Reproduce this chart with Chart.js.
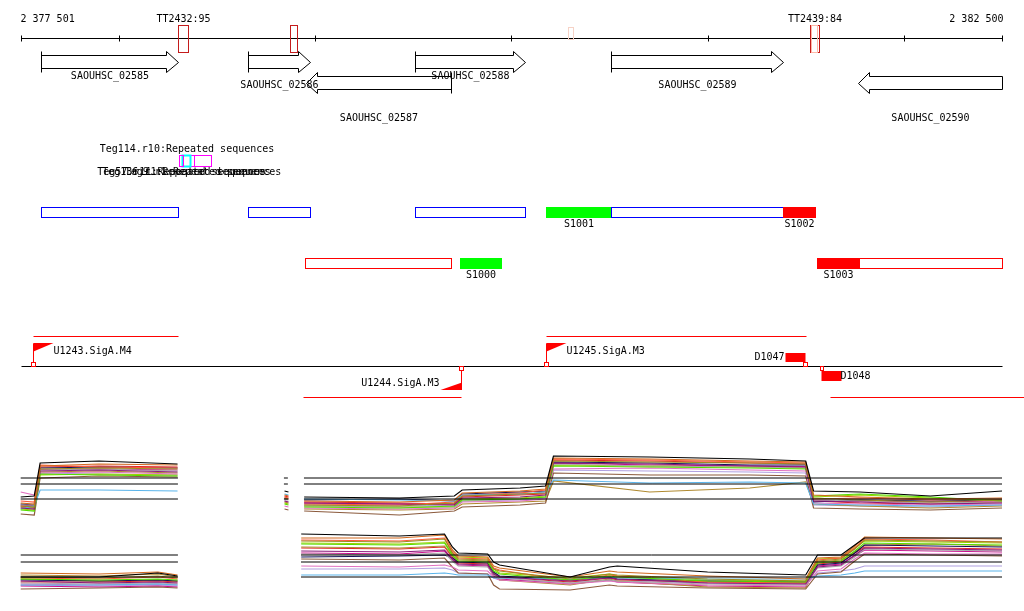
<!DOCTYPE html>
<html>
<head>
<meta charset="utf-8">
<script src="https://cdn.jsdelivr.net/npm/chart.js@4.4.0/dist/chart.umd.min.js"></script>
<style>
  html, body { margin: 0; padding: 0; background: #fff; }
  #wrap { width: 1024px; height: 611px; }
</style>
</head>
<body>
<div id="wrap"><canvas id="browser" width="1024" height="611"></canvas></div>
<script>
// region on screen
const regionStart = 2377501;
const regionEnd = 2382500;
const tickPositions = [2378000, 2379000, 2380000, 2381000, 2382000];

// terminators (top ruler)
const termNames = ['TT2432:95', '', '', 'TT2439:84', ''];
const termStarts = [2378304, 2378874, 2380288, 2381520, 2381527];
const termEnds = [2378355, 2378907, 2380317, 2381568, 2381560];
const termScores = [95, 90, 15, 84, 30];

// genes
const geneNames = ['SAOUHSC_02585', 'SAOUHSC_02586', 'SAOUHSC_02587', 'SAOUHSC_02588', 'SAOUHSC_02589', 'SAOUHSC_02590'];
const geneStarts = [2377606, 2378660, 2378954, 2379511, 2380508, 2381768];
const geneEnds = [2378304, 2378975, 2379692, 2380070, 2381386, 2382500];
const geneStrands = ['+', '+', '-', '+', '+', '-'];

// repeated sequences
const rptNames = ['Teg114.r10', 'Teg136.r1', 'Teg57.r11', 'Teg9.r1'];
const rptStarts = [2378307, 2378322, 2378307, 2378384];
const rptEnds = [2378384, 2378364, 2378327, 2378470];
const rptKinds = ['direct', 'inverted', 'direct', 'direct'];

// segments
const segNames = ['', '', '', 'S1001', '', 'S1002', '', 'S1000', 'S1003', ''];
const segStarts = [2377606, 2378660, 2379511, 2380178, 2380509, 2381383, 2378951, 2379737, 2381559, 2381770];
const segEnds = [2378301, 2378973, 2380068, 2380509, 2381383, 2381545, 2379692, 2379946, 2381770, 2382500];
const segStrands = ['+', '+', '+', '+', '+', '+', '-', '-', '-', '-'];
const segShift = ['none', 'none', 'none', 'up', 'none', 'down', 'none', 'up', 'down', 'none'];

// promoters, terminators, transcripts
const promNames = ['U1243.SigA.M4', 'U1244.SigA.M3', 'U1245.SigA.M3'];
const promPos = [2377562, 2379744, 2380177];
const promStrands = ['+', '-', '+'];
const downNames = ['D1047', 'D1048'];
const downPos = [2381497, 2381580];
const downStrands = ['+', '-'];
const txStarts = [2377563, 2378940, 2380177, 2381623];
const txEnds = [2378302, 2379744, 2381502, 2382700];
const txStrands = ['+', '-', '+', '-'];

// expression, forward strand (log2 signal)
const posUpper = [2377501, 2377570, 2377600, 2377900, 2378300, 2378570, 2378845, 2378865, 2378900, 2378945, 2379430, 2379710,
  2379750, 2380045, 2380175, 2380215, 2380705, 2381215, 2381500, 2381540, 2381775, 2382135, 2382500];
const upperSeries = [
  [5.4, 5.6, 12.2, 12.6, 12.0, null, 6.6, 6.4, null, 5.4, 5.2, 5.6, 6.8, 7.2, 7.6, 13.6, 13.4, 13.0, 12.6, 6.6, 6.4, 5.6, 6.6],
  [4.2, 4.0, 11.6, 12.0, 11.8, null, 5.8, 5.6, null, 4.6, 4.4, 4.8, 6.2, 6.6, 7.0, 13.2, 13.0, 12.6, 12.4, 5.8, 5.4, 5.0, 5.2],
  [3.6, 3.4, 11.0, 11.2, 11.0, null, 5.2, 5.0, null, 3.8, 3.6, 4.2, 5.6, 6.0, 6.2, 12.6, 12.4, 12.2, 12.0, 5.2, 4.8, 4.4, 4.8],
  [3.2, 3.0, 10.6, 10.8, 10.4, null, 4.6, 4.4, null, 4.2, 4.0, 3.8, 5.2, 5.4, 5.8, 12.2, 12.0, 11.6, 11.4, 4.6, 4.4, 4.0, 4.2],
  [2.8, 2.6, 10.0, 9.8, 9.6, null, 4.0, 3.8, null, 3.4, 3.2, 3.6, 4.8, 5.0, 5.4, 11.6, 11.4, 11.2, 11.0, 5.6, 6.0, 5.4, 4.6],
  [3.0, 3.6, 6.8, 6.8, 6.6, null, 6.0, 5.8, null, 5.0, 4.8, 4.6, 5.8, 6.0, 6.4, 8.8, 8.2, 8.4, 8.2, 4.0, 3.8, 3.6, 3.8],
  [4.6, 4.4, 11.8, 11.4, 11.2, null, 5.4, 5.2, null, 4.0, 3.8, 4.4, 5.8, 6.2, 6.8, 13.0, 12.8, 12.4, 12.2, 5.0, 5.2, 4.8, 5.0],
  [3.8, 3.8, 10.8, 11.0, 10.6, null, 4.8, 4.8, null, 3.6, 3.4, 3.4, 4.6, 5.0, 5.4, 12.0, 11.6, 11.4, 11.2, 4.8, 4.6, 4.2, 4.4],
  [4.0, 3.8, 11.2, 11.4, 11.2, null, 5.0, 5.0, null, 4.8, 5.0, 4.6, 6.0, 6.4, 6.6, 12.4, 12.2, 11.8, 11.8, 4.4, 4.8, 4.6, 4.8],
  [6.4, 5.8, 10.2, 10.4, 10.0, null, 3.6, 3.4, null, 3.2, 3.0, 3.2, 4.4, 4.6, 5.0, 11.0, 11.2, 10.8, 10.6, 4.2, 4.0, 3.8, 4.0],
  [2.0, 1.8, 9.2, 9.6, 9.4, null, 3.0, 2.8, null, 2.6, 1.8, 2.6, 3.4, 3.8, 4.2, 10.2, 9.8, 9.8, 9.6, 3.2, 3.0, 2.8, 3.2],
  [3.4, 3.2, 10.4, 10.6, 10.2, null, 4.4, 4.2, null, 3.0, 2.8, 3.0, 4.0, 4.4, 4.6, 8.6, 6.4, 7.2, 8.4, 4.0, 3.6, 3.2, 3.6],
  [3.6, 3.4, 11.4, 11.6, 11.4, null, 5.6, 5.4, null, 4.4, 4.2, 4.0, 5.4, 5.8, 6.0, 12.8, 12.6, 12.2, 12.0, 4.6, 4.2, 4.0, 4.4],
  [3.0, 2.8, 9.8, 10.0, 9.8, null, 4.2, 4.0, null, 3.6, 3.4, 3.4, 5.0, 5.2, 5.6, 11.8, 11.6, 11.4, 11.2, 5.4, 5.8, 5.2, 4.8],
  [3.8, 3.6, 10.9, 11.0, 10.8, null, 5.2, 5.0, null, 4.2, 4.0, 4.0, 5.6, 6.0, 6.2, 12.2, 11.8, 11.6, 11.5, 4.8, 4.6, 4.4, 4.6],
  [3.4, 3.2, 10.2, 10.0, 9.8, null, 4.6, 4.4, null, 3.8, 3.6, 3.8, 4.6, 4.8, 5.2, 10.8, 10.6, 10.4, 10.2, 3.8, 3.6, 3.4, 3.8]
];

// expression, reverse strand
const posLower = [2377501, 2377900, 2378200, 2378300, 2378600, 2378930, 2379430, 2379660, 2379700, 2379730, 2379880, 2379910,
  2379940, 2380300, 2380500, 2380540, 2381000, 2381500, 2381560, 2381680, 2381750, 2381800, 2382150, 2382500];
const lowerSeries = [
  [5.0, 5.0, 5.8, 5.2, null, 13.6, 13.2, 13.6, 11.0, 9.8, 9.6, 8.0, 7.4, 5.0, 7.0, 7.2, 6.0, 5.4, 9.4, 9.4, 11.4, 12.8, 12.8, 12.8],
  [5.8, 5.6, 6.0, 5.4, null, 12.8, 12.8, 13.4, 10.4, 9.2, 9.0, 7.2, 6.8, 5.0, 6.2, 6.0, 5.2, 4.6, 8.8, 9.0, 11.2, 13.0, 12.8, 12.6],
  [5.0, 4.8, 5.2, 4.8, null, 12.2, 12.0, 12.6, 9.8, 8.6, 8.4, 6.6, 6.2, 4.6, 5.6, 5.4, 4.6, 4.2, 8.2, 8.6, 10.6, 12.4, 12.2, 12.0],
  [4.2, 3.8, 4.0, 3.8, null, 10.2, 10.0, 10.4, 8.6, 7.6, 7.4, 5.6, 5.0, 4.2, 4.8, 4.6, 3.8, 3.6, 7.0, 7.4, 9.4, 10.8, 10.6, 10.4],
  [4.6, 4.4, 4.6, 4.4, null, 11.6, 11.4, 11.8, 9.4, 8.2, 8.0, 6.2, 5.6, 4.4, 5.2, 5.0, 4.2, 4.0, 7.8, 8.2, 10.2, 11.8, 11.6, 11.4],
  [3.4, 3.4, 3.6, 3.4, null, 5.4, 5.4, 5.8, 5.6, 5.4, 5.4, 4.8, 4.8, 4.6, 5.0, 4.8, 4.6, 4.6, 5.2, 5.4, 5.8, 6.2, 6.2, 6.2],
  [4.8, 4.6, 5.0, 4.6, null, 12.4, 12.2, 12.8, 10.0, 8.8, 8.6, 6.8, 6.4, 4.2, 5.4, 5.2, 4.0, 3.8, 8.4, 8.8, 10.8, 12.6, 12.4, 12.0],
  [3.8, 3.6, 3.8, 3.6, null, 9.6, 9.4, 9.8, 8.2, 7.2, 7.0, 5.4, 4.8, 3.8, 4.4, 4.2, 3.6, 3.4, 6.8, 7.2, 9.0, 10.6, 10.4, 10.2],
  [4.4, 4.2, 4.4, 4.2, null, 9.0, 9.2, 9.4, 8.8, 8.0, 7.8, 6.0, 5.2, 4.4, 5.0, 4.6, 4.2, 4.0, 7.4, 7.8, 9.8, 11.4, 11.2, 11.0],
  [3.6, 3.4, 3.6, 3.4, null, 7.2, 7.0, 7.4, 7.0, 6.4, 6.2, 5.0, 4.4, 3.6, 4.2, 4.0, 3.4, 3.2, 6.2, 6.6, 8.6, 9.8, 9.6, 9.6],
  [2.6, 2.8, 3.0, 2.8, null, 8.6, 8.4, 8.8, 7.0, 5.8, 5.6, 3.4, 2.6, 2.4, 3.4, 3.2, 2.8, 2.6, 5.6, 6.0, 8.2, 9.6, 9.4, 9.2],
  [5.4, 5.2, 5.6, 5.0, null, 11.0, 10.8, 11.2, 9.2, 8.4, 8.2, 6.0, 4.4, 3.4, 4.6, 4.2, 3.0, 2.8, 8.0, 8.4, 10.0, 11.4, 11.6, 11.2],
  [4.0, 4.0, 4.2, 4.0, null, 10.8, 10.6, 11.0, 9.0, 7.8, 7.6, 5.8, 5.0, 4.0, 4.8, 4.4, 4.0, 3.8, 7.6, 8.0, 9.8, 11.0, 10.8, 10.6],
  [4.6, 4.2, 4.4, 4.2, null, 11.8, 11.6, 12.0, 9.6, 9.0, 8.8, 6.6, 5.8, 4.8, 5.6, 5.2, 4.4, 4.2, 8.6, 8.8, 10.8, 12.2, 12.0, 11.8],
  [3.2, 3.0, 3.2, 3.0, null, 9.8, 9.6, 10.2, 8.4, 7.4, 7.2, 5.2, 4.6, 3.6, 4.4, 4.0, 3.2, 3.0, 7.2, 7.6, 9.2, 10.4, 10.2, 10.0],
  [3.4, 3.2, 3.4, 3.2, null, 6.6, 6.6, 6.8, 6.4, 5.8, 5.6, 4.8, 4.4, 4.0, 4.4, 4.2, 3.8, 3.6, 5.8, 6.2, 6.6, 7.2, 7.2, 7.2]
];

// reference levels and covered spans
const refUpper = [9.2, 8.0, 5.0];
const refLower = [9.4, 8.0, 5.0];
const spansUpper = [[2377501, 2378302], [2378842, 2378862], [2378944, 2382500]];
const spansLower = [[2377501, 2378302], [2378929, 2382500]];

const seriesColours = ['#000000', '#d2691e', '#9c8c22', '#8b1a7a', '#55dd00', '#5ab4ea', '#ff5a3c', '#a8a8a8',
  '#14145a', '#e070c0', '#8b5a3c', '#b08a30', '#e02828', '#a0d000', '#cc1090', '#b0a0e0'];

function toPoints(pos, vals) {
  return pos.map((p, i) => ({ x: p, y: vals[i] }));
}
function spanPoints(spans, level) {
  const pts = [];
  spans.forEach((s, i) => {
    if (i > 0) pts.push({ x: (spans[i - 1][1] + s[0]) / 2, y: null });
    pts.push({ x: s[0], y: level }, { x: s[1], y: level });
  });
  return pts;
}

const datasets = [];
refUpper.forEach(l => datasets.push({ data: spanPoints(spansUpper, l), yAxisID: 'yU', borderColor: '#000', borderWidth: 1 }));
refLower.forEach(l => datasets.push({ data: spanPoints(spansLower, l), yAxisID: 'yD', borderColor: '#000', borderWidth: 1 }));
upperSeries.forEach((vals, i) => datasets.push({ data: toPoints(posUpper, vals), yAxisID: 'yU', borderColor: seriesColours[i], borderWidth: 1.2 }));
lowerSeries.forEach((vals, i) => datasets.push({ data: toPoints(posLower, vals), yAxisID: 'yD', borderColor: seriesColours[i], borderWidth: 1.2 }));

function fmt(n) {
  return String(n).replace(/\B(?=(\d{3})+(?!\d))/g, ' ');
}

const tracks = {
  id: 'tracks',
  afterDatasetsDraw(chart) {
    const c = chart.ctx;
    const xs = chart.scales.x, ys = chart.scales.yL;
    const X = v => Math.round(xs.getPixelForValue(v)) + 0.5;
    const Y = v => Math.round(ys.getPixelForValue(v)) + 0.5;
    const T = v => ys.getPixelForValue(v);
    const labels = [];
    c.save();
    c.font = '10px "DejaVu Sans Mono"';
    c.lineWidth = 1;
    c.textBaseline = 'middle';

    // ruler
    c.strokeStyle = '#000';
    c.beginPath();
    c.moveTo(X(regionStart), Y(38));
    c.lineTo(X(regionEnd), Y(38));
    [regionStart, ...tickPositions, regionEnd].forEach(p => {
      c.moveTo(X(p), Y(35));
      c.lineTo(X(p), Y(41));
    });
    c.stroke();
    labels.push([fmt(regionStart), X(regionStart) - 1, T(19), 'left']);
    labels.push([fmt(regionEnd), X(regionEnd) + 1, T(19), 'right']);

    // terminator boxes
    termNames.forEach((n, i) => {
      const s = termScores[i];
      c.strokeStyle = s >= 80 ? '#c41c1c' : (s >= 25 ? '#ffb8a8' : '#f6d2c6');
      const top = s >= 20 ? 25 : 27, bot = s >= 20 ? 52 : 39;
      const x1 = X(termStarts[i]), x2 = X(termEnds[i]);
      c.strokeRect(x1, Y(top), x2 - x1, Y(bot) - Y(top));
      if (n) labels.push([n, (x1 + x2) / 2, T(19), 'center']);
    });

    // genes
    let fwd = 0;
    geneNames.forEach((n, i) => {
      const x1 = X(geneStarts[i]), x2 = X(geneEnds[i]);
      const clipped = geneEnds[i] >= regionEnd;
      c.strokeStyle = '#000';
      c.fillStyle = '#fff';
      c.beginPath();
      let labelY;
      if (geneStrands[i] === '+') {
        const hs = x2 - 12, t = Y(55), b = Y(68), ht = Y(51), hb = Y(72), m = Y(61.5);
        c.moveTo(x1, t); c.lineTo(hs, t); c.lineTo(hs, ht); c.lineTo(x2, m);
        c.lineTo(hs, hb); c.lineTo(hs, b); c.lineTo(x1, b); c.closePath();
        c.fill();
        c.stroke();
        c.beginPath();
        c.moveTo(x1, ht); c.lineTo(x1, hb);
        c.stroke();
        labelY = fwd % 2 === 0 ? 76 : 85;
        fwd++;
      } else {
        const hs = x1 + 11, t = Y(76), b = Y(89), ht = Y(72), hb = Y(93), m = Y(82.5);
        c.moveTo(x2, t); c.lineTo(hs, t); c.lineTo(hs, ht); c.lineTo(x1, m);
        c.lineTo(hs, hb); c.lineTo(hs, b); c.lineTo(x2, b); c.closePath();
        c.fill();
        c.stroke();
        if (!clipped) {
          c.beginPath();
          c.moveTo(x2, ht); c.lineTo(x2, hb);
          c.stroke();
        }
        labelY = 118;
      }
      labels.push([n, (x1 + x2) / 2, T(labelY), 'center']);
    });

    // repeated sequences
    rptNames.forEach((n, i) => {
      const x1 = X(rptStarts[i]), x2 = X(rptEnds[i]);
      c.strokeStyle = rptKinds[i] === 'inverted' ? '#00ffff' : '#ff00ff';
      c.lineWidth = rptKinds[i] === 'inverted' ? 2 : 1;
      c.strokeRect(x1, Y(155), x2 - x1, Y(166) - Y(155));
      labels.push([n + ':Repeated sequences', (x1 + x2) / 2, T(i === 0 ? 149 : 172), 'center']);
    });
    c.lineWidth = 1;

    // segments
    segNames.forEach((n, i) => {
      const x1 = X(segStarts[i]), x2 = X(segEnds[i]);
      const fw = segStrands[i] === '+';
      const t = fw ? 207 : 258, b = fw ? 217 : 268;
      if (segShift[i] === 'none') {
        c.strokeStyle = fw ? '#0000ff' : '#ff0000';
        c.strokeRect(x1, Y(t), x2 - x1, Y(b) - Y(t));
      } else {
        c.fillStyle = segShift[i] === 'up' ? '#00ff00' : '#ff0000';
        c.fillRect(x1 - 0.5, Y(t) - 0.5, x2 - x1 + 1, Y(b) - Y(t) + 1);
      }
      if (n) labels.push([n, (x1 + x2) / 2, T(fw ? 224 : 275), 'center']);
    });

    // transcripts
    c.strokeStyle = '#ff0000';
    txStarts.forEach((s, i) => {
      const y = Y(txStrands[i] === '+' ? 336 : 397);
      c.beginPath();
      c.moveTo(X(s), y);
      c.lineTo(X(txEnds[i]), y);
      c.stroke();
    });

    // central line
    c.strokeStyle = '#000';
    c.beginPath();
    c.moveTo(X(regionStart), Y(366));
    c.lineTo(X(regionEnd), Y(366));
    c.stroke();

    // promoters
    promNames.forEach((n, i) => {
      const x = X(promPos[i]);
      c.strokeStyle = '#ff0000';
      c.fillStyle = '#ff0000';
      c.beginPath();
      if (promStrands[i] === '+') {
        c.moveTo(x, Y(362)); c.lineTo(x, Y(343));
        c.stroke();
        c.strokeRect(x - 2, Y(362), 4, 4);
        c.beginPath();
        c.moveTo(x, Y(343) - 0.5); c.lineTo(x + 20, Y(343) - 0.5); c.lineTo(x, Y(351)); c.closePath();
        c.fill();
        labels.push([n, x + 20, T(351), 'left']);
      } else {
        c.moveTo(x, Y(370)); c.lineTo(x, Y(389));
        c.stroke();
        c.strokeRect(x - 2, Y(366), 4, 4);
        c.beginPath();
        c.moveTo(x + 0.5, Y(389) + 0.5); c.lineTo(x - 21, Y(389) + 0.5); c.lineTo(x + 0.5, Y(382)); c.closePath();
        c.fill();
        labels.push([n, x - 22, T(383), 'right']);
      }
    });

    // terminator marks
    downNames.forEach((n, i) => {
      const x = X(downPos[i]);
      c.strokeStyle = '#ff0000';
      c.fillStyle = '#ff0000';
      if (downStrands[i] === '+') {
        c.fillRect(x - 20, T(353), 20, 9);
        c.strokeRect(x - 2, Y(362), 4, 4);
        labels.push([n, x - 21, T(357), 'right']);
      } else {
        c.fillRect(x, T(371), 20, 10);
        c.strokeRect(x - 1, Y(366), 3, 4);
        labels.push([n, x + 19, T(376), 'left']);
      }
    });

    // all text on top
    c.fillStyle = '#000';
    labels.forEach(([txt, x, y, align]) => {
      c.textAlign = align;
      c.fillText(txt, x, y);
    });
    c.restore();
  }
};

const bpPerPx = (regionEnd - regionStart) / 981.3;
new Chart(document.getElementById('browser'), {
  type: 'line',
  data: { datasets },
  options: {
    responsive: false,
    animation: false,
    events: [],
    layout: { padding: 0 },
    elements: { point: { radius: 0 }, line: { tension: 0 } },
    spanGaps: false,
    plugins: { legend: { display: false }, tooltip: { enabled: false } },
    scales: {
      x: { type: 'linear', display: false, min: regionStart - 20.7 * bpPerPx, max: regionEnd + 22 * bpPerPx },
      yL: { type: 'linear', display: false, min: 0, max: 611, reverse: true },
      yU: { type: 'linear', display: false, min: -17.4, max: 104.8 },
      yD: { type: 'linear', display: false, min: -1.8, max: 120.4 }
    }
  },
  plugins: [tracks]
});
</script>
</body>
</html>
